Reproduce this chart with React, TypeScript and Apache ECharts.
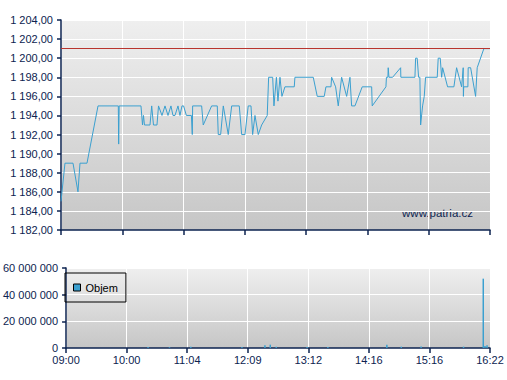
import React, { useEffect, useRef } from "react";
import * as echarts from "echarts";

// X positions are in axis slots (0 = 09:00 … 7 = 16:22), labels evenly spaced
const timeLabels = ["09:00", "10:00", "11:04", "12:09", "13:12", "14:16", "15:16", "16:22"];

const priceX = [
  0, 0.065, 0.196, 0.277, 0.31, 0.424, 0.604, 0.935, 0.941, 0.949,
  1.305, 1.33, 1.346, 1.362, 1.452, 1.48, 1.509, 1.566, 1.591, 1.648,
  1.697, 1.746, 1.794, 1.827, 1.86, 1.909, 1.941, 1.974, 2.0, 2.046,
  2.128, 2.142, 2.148, 2.295, 2.321, 2.458, 2.55, 2.566, 2.605, 2.648,
  2.729, 2.785, 2.909, 2.948, 3.002, 3.055, 3.1, 3.127, 3.165, 3.219,
  3.274, 3.365, 3.388, 3.454, 3.475, 3.515, 3.54, 3.573, 3.605, 3.654,
  3.806, 3.817, 4.116, 4.181, 4.295, 4.323, 4.405, 4.416, 4.481, 4.524,
  4.579, 4.661, 4.715, 4.742, 4.796, 4.915, 5.069, 5.078, 5.302, 5.31,
  5.334, 5.339, 5.351, 5.411, 5.542, 5.545, 5.775, 5.786, 5.812, 5.835,
  5.856, 5.868, 5.9, 5.927, 5.949, 6.139, 6.155, 6.188, 6.211, 6.227,
  6.308, 6.411, 6.455, 6.537, 6.563, 6.566, 6.571, 6.639, 6.644, 6.684,
  6.765, 6.791, 6.9, 7.0,
];
const priceY = [
  1185, 1189, 1189, 1186, 1189, 1189, 1195, 1195, 1191, 1195,
  1195, 1193, 1194, 1193, 1193, 1195, 1193, 1193, 1195, 1194,
  1195, 1194, 1195, 1194, 1194, 1195, 1194, 1195, 1195, 1194,
  1194, 1192, 1195, 1195, 1193, 1195, 1195, 1192, 1192, 1195,
  1192, 1195, 1195, 1192, 1192, 1195, 1195, 1192, 1194, 1192,
  1193, 1194, 1198, 1198, 1195, 1198, 1195.5, 1198, 1196, 1197,
  1197, 1198, 1198, 1196, 1196, 1197, 1197, 1198, 1197, 1195,
  1198, 1196, 1198, 1195, 1195, 1197, 1197, 1195, 1197, 1198,
  1198, 1199, 1198, 1198, 1199, 1198, 1198, 1200, 1200, 1198,
  1198, 1193, 1195, 1196, 1198, 1198, 1200, 1200, 1198, 1199,
  1197, 1197, 1199, 1197, 1199, 1196, 1197, 1197, 1199, 1199,
  1196, 1199, 1201, 1201,
];
const referencePrice = 1201;

const volumeX = [1.354, 1.708, 2.06, 2.904, 3.284, 3.372, 3.47, 3.98, 4.323, 5.297, 5.535, 5.862, 6.563, 6.889, 6.917, 6.951];
const volumeY = [800000, 600000, 1000000, 800000, 2000000, 2500000, 1000000, 800000, 800000, 2500000, 1000000, 1200000, 1000000, 52000000, 1500000, 2000000];

const navy = "#0c2350";
const font = "Liberation Sans";

function groupDigits(s: string) {
  return s.replace(/\B(?=(\d{3})+(?!\d))/g, " ");
}
function fmtPrice(v: number) {
  const [i, d] = v.toFixed(2).split(".");
  return groupDigits(i) + "," + d;
}
function fmtVolume(v: number) {
  return groupDigits(String(Math.round(v)));
}

export default function App() {
  const ref = useRef<HTMLDivElement>(null);
  useEffect(() => {
    document.body.style.margin = "0";
    if (!ref.current) return;
    const chart = echarts.init(ref.current, undefined, { renderer: "svg" });
    const bg = () =>
      new echarts.graphic.LinearGradient(0, 0, 0, 1, [
        { offset: 0, color: "#efefef" },
        { offset: 1, color: "#c6c6c6" },
      ]);
    const axisLine = { show: true, onZero: false, lineStyle: { color: navy, width: 1.5 } };
    const split = { show: true, lineStyle: { color: "#ffffff", width: 1 } };
    const labelStyle = { color: navy, fontSize: 11, fontFamily: font };
    chart.setOption({
      animation: false,
      grid: [
        { left: 61, top: 20, width: 429, height: 210, show: true, backgroundColor: bg(), borderWidth: 0 },
        { left: 61, top: 268, width: 429, height: 80, show: true, backgroundColor: bg(), borderWidth: 0 },
      ],
      xAxis: [
        {
          type: "value", gridIndex: 0, min: 0, max: 7, interval: 1,
          axisLine, axisTick: { show: true, length: 5, lineStyle: { color: navy, width: 1.5 } },
          axisLabel: { show: false }, splitLine: split,
        },
        {
          type: "value", gridIndex: 1, min: 0, max: 7, interval: 1,
          axisLine, axisTick: { show: true, length: 5, lineStyle: { color: navy, width: 1.5 } },
          axisLabel: { ...labelStyle, margin: 6, formatter: (v: number) => timeLabels[Math.round(v)] },
          splitLine: split,
        },
      ],
      yAxis: [
        {
          type: "value", gridIndex: 0, min: 1182, max: 1204, interval: 2,
          axisLine, axisTick: { show: true, length: 4, lineStyle: { color: navy, width: 1.5 } },
          axisLabel: { ...labelStyle, margin: 8, formatter: fmtPrice }, splitLine: split,
        },
        {
          type: "value", gridIndex: 1, min: 0, max: 60000000, interval: 20000000,
          axisLine, axisTick: { show: true, length: 4, lineStyle: { color: navy, width: 1.5 } },
          axisLabel: { ...labelStyle, margin: 8, formatter: fmtVolume }, splitLine: split,
        },
      ],
      legend: {
        data: ["Objem"], left: 65, top: 273, orient: "vertical",
        borderColor: "#000", borderWidth: 1, borderRadius: 0, padding: [9, 8, 9, 8],
        itemWidth: 7, itemHeight: 7, icon: "rect",
        itemStyle: { borderColor: "#000", borderWidth: 1 },
        textStyle: { color: "#000", fontSize: 11, fontFamily: font },
      },
      series: [
        {
          type: "line", name: "Cena", xAxisIndex: 0, yAxisIndex: 0,
          data: priceX.map((x, i) => [x, priceY[i]]),
          symbol: "none", showSymbol: false,
          lineStyle: { color: "#3ba0d0", width: 1 },
          markLine: {
            silent: true, symbol: "none", label: { show: false },
            lineStyle: { color: "#b8342e", width: 1, type: "solid" },
            data: [{ yAxis: referencePrice }],
          },
        },
        {
          type: "bar", name: "Objem", xAxisIndex: 1, yAxisIndex: 1,
          data: volumeX.map((x, i) => [x, volumeY[i]]),
          barWidth: 1.5, itemStyle: { color: "#3ba0d0" },
        },
      ],
      graphic: [
        {
          type: "text", right: 34, top: 207,
          style: { text: "www.patria.cz", fill: navy, font: `11.5px "${font}"` },
        },
      ],
    });
    return () => chart.dispose();
  }, []);
  return <div ref={ref} style={{ width: 507, height: 380 }} />;
}
